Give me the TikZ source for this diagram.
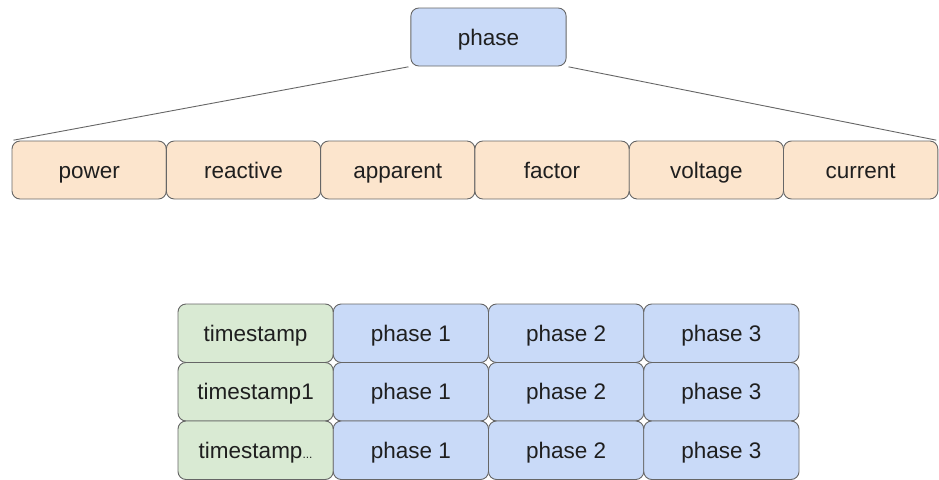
\documentclass[tikz,border=0pt]{standalone}
\usepackage{fontspec}
\setmainfont{Liberation Sans}
\definecolor{boxline}{HTML}{666666}
\definecolor{bluefill}{HTML}{C9DAF8}
\definecolor{orangefill}{HTML}{FCE5CD}
\definecolor{greenfill}{HTML}{D9EAD3}
\definecolor{txt}{HTML}{1F1F1F}
\tikzset{
  cell/.style={draw=boxline, line width=0.9pt, rounded corners=8pt,
    minimum height=58pt, inner sep=0pt, text=txt,
    text height=16pt, text depth=0pt,
    font=\fontsize{22.5}{27}\selectfont},
  field/.style={cell, fill=orangefill, minimum width=154.3pt},
  bluecell/.style={cell, fill=bluefill, minimum width=155.25pt},
  timecell/.style={cell, fill=greenfill, minimum width=155.25pt, minimum height=58.5pt},
  datacell/.style={bluecell, minimum height=58.5pt},
  link/.style={draw=boxline, line width=0.9pt, shorten <=2pt, shorten >=2pt}
}
\begin{document}
\begin{tikzpicture}[x=1pt,y=-1pt]
\useasboundingbox (0,0) rectangle (939,479);

% root record
\node[bluecell] (phase) at (488.5,37) {phase};

% fields of a phase
\node[field] (power)    at (12+0.5*154.3,170) {power};
\node[field] (reactive) at (12+1.5*154.3,170) {reactive};
\node[field] (apparent) at (12+2.5*154.3,170) {apparent};
\node[field] (factor)   at (12+3.5*154.3,170) {factor};
\node[field] (voltage)  at (12+4.5*154.3,170) {voltage};
\node[field] (current)  at (12+5.5*154.3,170) {current};

\draw[link] (phase.south west) -- (power.north west);
\draw[link] (phase.south east) -- (current.north east);

% table of samples
\foreach \r/\lab in {0/timestamp, 1/timestamp1, 2/{timestamp{\fontsize{12}{12}\selectfont...}}} {
  \node[timecell] (t\r) at (178+0.5*155.25, 304+29.25+\r*58.5) {\lab};
  \foreach \c in {1,2,3} {
    \node[datacell] (p\r\c) at (178+\c*155.25+0.5*155.25, 304+29.25+\r*58.5) {phase \c};
  }
}
\end{tikzpicture}
\end{document}
